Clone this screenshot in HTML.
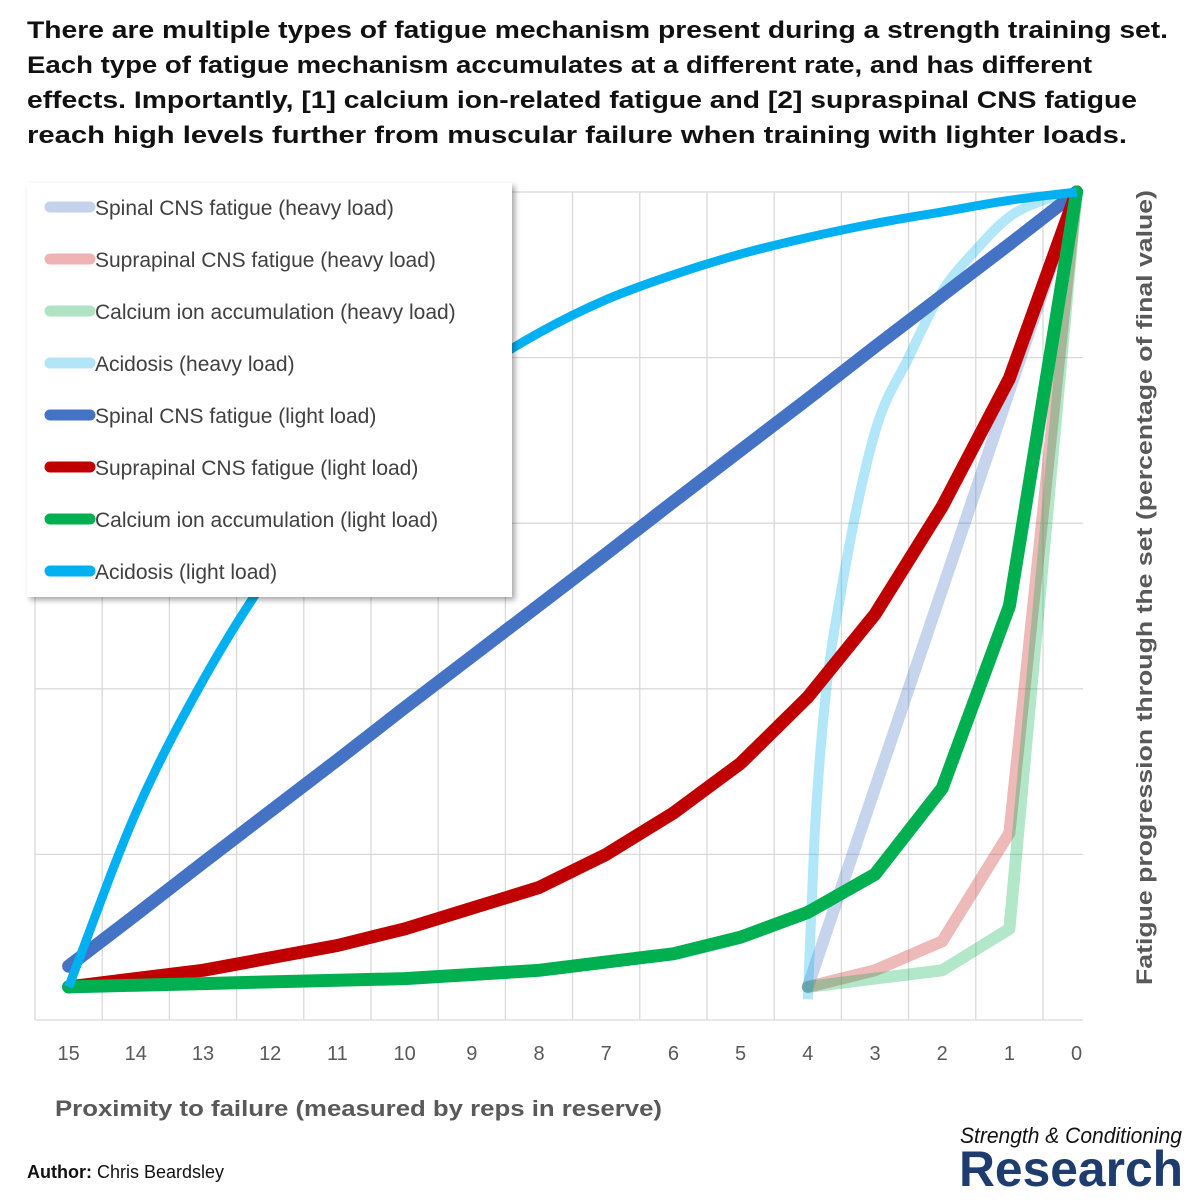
<!DOCTYPE html>
<html><head><meta charset="utf-8">
<style>
html,body{margin:0;padding:0;background:#fff;width:1200px;height:1200px;overflow:hidden}
svg{display:block}
text{font-family:"Liberation Sans",Arial,sans-serif}
</style></head>
<body>
<svg id="chart" width="1200" height="1200" viewBox="0 0 1200 1200">
  <g font-weight="bold" font-size="24" fill="#111">
    <text x="27" y="38" textLength="1141" lengthAdjust="spacingAndGlyphs">There are multiple types of fatigue mechanism present during a strength training set.</text>
    <text x="27" y="73" textLength="1065" lengthAdjust="spacingAndGlyphs">Each type of fatigue mechanism accumulates at a different rate, and has different</text>
    <text x="27" y="108" textLength="1110" lengthAdjust="spacingAndGlyphs">effects. Importantly, [1] calcium ion-related fatigue and [2] supraspinal CNS fatigue</text>
    <text x="27" y="143" textLength="1100" lengthAdjust="spacingAndGlyphs">reach high levels further from muscular failure when training with lighter loads.</text>
  </g>
  <g id="grid"></g>
  <g id="series"></g>
  <g id="xticks" font-size="20" fill="#595959" text-anchor="middle"></g>
  <text x="55" y="1116" font-size="22" font-weight="bold" fill="#595959" textLength="607" lengthAdjust="spacingAndGlyphs">Proximity to failure (measured by reps in reserve)</text>
  <text transform="translate(1152,985) rotate(-90)" font-size="22" font-weight="bold" fill="#595959" textLength="795" lengthAdjust="spacingAndGlyphs">Fatigue progression through the set (percentage of final value)</text>
  <defs><filter id="sh" x="-5%" y="-5%" width="115%" height="115%"><feDropShadow dx="3" dy="3" stdDeviation="3" flood-color="#000" flood-opacity="0.35"/></filter></defs>
  <g id="legend">
    <rect x="27" y="183" width="485" height="414" fill="#fff" filter="url(#sh)"/>
  </g>
  <text x="27" y="1178" font-size="18" fill="#111"><tspan font-weight="bold">Author:</tspan> Chris Beardsley</text>
  <g>
    <text x="960" y="1143" font-family="'Liberation Serif',serif" font-style="italic" font-size="22" fill="#111" textLength="222" lengthAdjust="spacingAndGlyphs">Strength &amp; Conditioning</text>
    <text x="959" y="1186" font-size="50" font-weight="bold" fill="#1F3C6E" textLength="224" lengthAdjust="spacingAndGlyphs">Research</text>
  </g>
</svg>
<script>
const xTicks = [15,14,13,12,11,10,9,8,7,6,5,4,3,2,1,0];
const rirHeavy = [4,3,2,1,0];
const spinalHeavy = [4,28,52,76,100];
const supraHeavy = [4,6,9.5,22.6,100];
const calciumHeavy = [4,5,6,11,100];
const rirAcidHeavy = [4,3.9,3.75,3.5,3,2.5,2,1.5,1,0.5,0];
const acidHeavy = [2.5,22,38,52,71,80,88,93,97,99,100];
const rirLight = [15,14,13,12,11,10,9,8,7,6,5,4,3,2,1,0];
const spinalLight = [6.5,12.7,19,25.2,31.4,37.7,43.9,50.1,56.3,62.6,68.8,75,81.3,87.5,93.7,100];
const supraLight = [4,5,6,7.5,9,11,13.5,16,20,25,31,39,49,62,77.5,100];
const calciumLight = [4,4.2,4.4,4.6,4.8,5,5.5,6,7,8,10,13,17.6,28,50,100];
const acidLight = [4,25,41,54,64,72,78,83,87,90,92.5,94.5,96.2,97.6,99,100];
const yGridVals = [0,20,40,60,80,100];

const NS='http://www.w3.org/2000/svg';
const X0=35, STEP=67.2, YB=1020, YT=192, XR=1083;
function xScale(r){return X0+STEP/2+(15-r)*STEP;}
function yScale(v){return YB-(v/100)*(YB-YT);}
function mk(tag,attrs,parent){const e=document.createElementNS(NS,tag);for(const k in attrs)e.setAttribute(k,attrs[k]);parent.appendChild(e);return e;}

const grid=document.getElementById('grid');
for(let i=0;i<xTicks.length;i++){
  const x=X0+i*STEP;
  const l=mk('line',{x1:x,x2:x,y1:YT,y2:YB,stroke:'#d9d9d9','stroke-width':1.3},grid);
  
  
}
yGridVals.forEach(v=>{
  const y=yScale(v);
  const l=mk('line',{x1:X0,x2:XR,y1:y,y2:y,stroke:'#d9d9d9','stroke-width':1.3},grid);
  
  
});
const xt=document.getElementById('xticks');
xTicks.forEach(t=>{
  const e=mk('text',{x:xScale(t),y:1060},xt);
  e.textContent=t;
  
  
});

function poly(xs,ys){return xs.map((r,i)=>(i?'L':'M')+xScale(r).toFixed(1)+','+yScale(ys[i]).toFixed(1)).join('');}
function smooth(xs,ys){
  const px=xs.map(xScale), py=ys.map(yScale), n=px.length;
  const d=[],m=[];
  for(let i=0;i<n-1;i++)d.push((py[i+1]-py[i])/(px[i+1]-px[i]));
  m[0]=d[0];m[n-1]=d[n-2];
  for(let i=1;i<n-1;i++){m[i]=(d[i-1]*d[i]<=0)?0:(d[i-1]+d[i])/2;}
  for(let i=0;i<n-1;i++){
    if(d[i]===0){m[i]=0;m[i+1]=0;continue;}
    const a=m[i]/d[i],b=m[i+1]/d[i],s=a*a+b*b;
    if(s>9){const t=3/Math.sqrt(s);m[i]=t*a*d[i];m[i+1]=t*b*d[i];}
  }
  let p='M'+px[0].toFixed(1)+','+py[0].toFixed(1);
  for(let i=0;i<n-1;i++){
    const h=(px[i+1]-px[i])/3;
    p+='C'+(px[i]+h).toFixed(1)+','+(py[i]+m[i]*h).toFixed(1)+' '+(px[i+1]-h).toFixed(1)+','+(py[i+1]-m[i+1]*h).toFixed(1)+' '+px[i+1].toFixed(1)+','+py[i+1].toFixed(1);
  }
  return p;
}
const series=[
  {name:'spinal-heavy-line',xs:rirHeavy,ys:spinalHeavy,c:'#4472C4',o:0.3,w:12,s:false,lc:'#C5D2EC',label:'Spinal CNS fatigue (heavy load)'},
  {name:'supraspinal-heavy-line',xs:rirHeavy,ys:supraHeavy,c:'#D55050',o:0.4,w:12,s:false,lc:'#EFB3B3',label:'Suprapinal CNS fatigue (heavy load)'},
  {name:'calcium-heavy-line',xs:rirHeavy,ys:calciumHeavy,c:'#00B050',o:0.3,w:12,s:false,lc:'#AEE3C4',label:'Calcium ion accumulation (heavy load)'},
  {name:'acidosis-heavy-line',xs:rirAcidHeavy,ys:acidHeavy,c:'#00B0F0',o:0.3,w:10,s:true,lc:'#B3E5F9',label:'Acidosis (heavy load)'},
  {name:'spinal-light-line',xs:rirLight,ys:spinalLight,c:'#4472C4',o:1,w:13,s:false,lc:'#4472C4',label:'Spinal CNS fatigue (light load)'},
  {name:'supraspinal-light-line',xs:rirLight,ys:supraLight,c:'#C00000',o:1,w:13,s:false,lc:'#C00000',label:'Suprapinal CNS fatigue (light load)'},
  {name:'calcium-light-line',xs:rirLight,ys:calciumLight,c:'#00B050',o:1,w:13,s:false,lc:'#00B050',label:'Calcium ion accumulation (light load)'},
  {name:'acidosis-light-line',xs:rirLight,ys:acidLight,c:'#00B0F0',o:1,w:9,s:true,lc:'#00B0F0',label:'Acidosis (light load)'}
];
const sg=document.getElementById('series');
series.forEach(s=>{
  const p=mk('path',{d:s.s?smooth(s.xs,s.ys):poly(s.xs,s.ys),fill:'none',stroke:s.c,'stroke-opacity':s.o,'stroke-width':s.w,'stroke-linejoin':'round','stroke-linecap':s.s?'butt':'round'},sg);
  
  
});
const lg=document.getElementById('legend');
series.forEach((s,i)=>{
  const y=207+i*52;
  const g=mk('g',{},lg);
  
  
  mk('line',{x1:50,x2:90,y1:y,y2:y,stroke:s.lc,'stroke-width':11,'stroke-linecap':'round'},g);
  const t=mk('text',{x:95,y:y+8,'font-size':21,fill:'#404040'},g);
  t.textContent=s.label;
});
</script>
</body></html>
